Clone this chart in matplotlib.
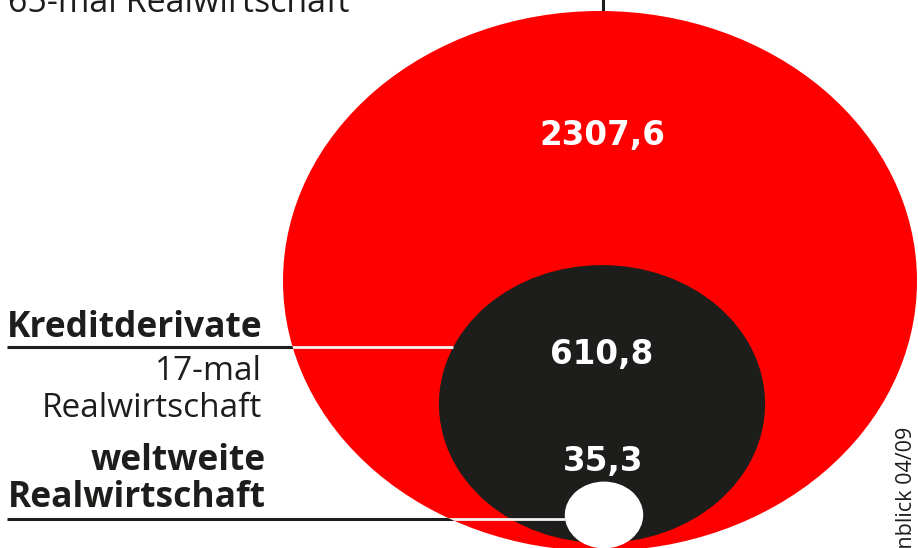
import numpy as np
import matplotlib
matplotlib.use("Agg")
import matplotlib.pyplot as plt
from matplotlib.patches import Ellipse

# ---- data ----
categories = ["Derivate insgesamt", "Kreditderivate", "weltweite Realwirtschaft"]
values = [2307.6, 610.8, 35.3]
value_labels = ["2307,6", "610,8", "35,3"]
multiples = ["65-mal Realwirtschaft", "17-mal\nRealwirtschaft"]
source = "Einblick 04/09"

colors = ["#ff0000", "#1d1d1b", "#ffffff"]
centers = [(600, 281), (602, 404), (604, 515)]
scale = 317 / np.sqrt(values[0])
aspect = 270 / 317

W, H = 918, 548
fig = plt.figure(figsize=(W / 100, H / 100), dpi=100)
ax = fig.add_axes([0, 0, 1, 1])
ax.set_xlim(0, W)
ax.set_ylim(H, 0)
ax.axis("off")

FONT = "Open Sans"
dark = "#1d1d1b"

patches = []
for v, c, col in zip(values, centers, colors):
    rx = scale * np.sqrt(v)
    ry = rx * aspect
    e = Ellipse(c, 2 * rx, 2 * ry, facecolor=col, edgecolor="none", zorder=2)
    ax.add_patch(e)
    patches.append((e, c, rx, ry))

def left_edge(idx, y):
    _, (cx, cy), rx, ry = patches[idx]
    return cx - rx * np.sqrt(max(0.0, 1 - ((y - cy) / ry) ** 2))

# leader lines
y1 = 347
x_end1 = left_edge(1, y1)
ax.plot([7, x_end1], [y1, y1], color=dark, lw=2.2, zorder=1, solid_capstyle="butt")
l1, = ax.plot([7, x_end1], [y1, y1], color="#f4f4f4", lw=2.0, zorder=3, solid_capstyle="butt")
l1.set_clip_path(patches[0][0])

y2 = 519
x_end2 = left_edge(2, y2)
ax.plot([7, x_end2], [y2, y2], color=dark, lw=2.2, zorder=1, solid_capstyle="butt")
l2, = ax.plot([7, x_end2], [y2, y2], color="#f4f4f4", lw=2.0, zorder=3, solid_capstyle="butt")
l2.set_clip_path(patches[0][0])

# top vertical leader
top_red = centers[0][1] - patches[0][3]
ax.plot([603, 603], [0, top_red], color=dark, lw=2.2, zorder=1)

# labels left
fs = 24
fsb = 25.5
ax.text(8, 12, multiples[0], fontsize=24.5, family=FONT, color=dark, ha="left", va="baseline")
ax.text(262, 337, categories[1], fontsize=fsb, family=FONT, fontweight="bold", color=dark, ha="right", va="baseline")
ax.text(262, 380, "17-mal", fontsize=fs, family=FONT, color=dark, ha="right", va="baseline")
ax.text(262, 417, "Realwirtschaft", fontsize=fs, family=FONT, color=dark, ha="right", va="baseline")
ax.text(266, 470, "weltweite", fontsize=fsb, family=FONT, fontweight="bold", color=dark, ha="right", va="baseline")
ax.text(266, 507, "Realwirtschaft", fontsize=fsb, family=FONT, fontweight="bold", color=dark, ha="right", va="baseline")

# value labels
val_pos = [(602, 145), (602, 364), (603, 471)]
for (x, y), lab in zip(val_pos, value_labels):
    ax.text(x, y, lab, fontsize=23.5, family="DejaVu Sans", fontweight="bold", color="white",
            ha="center", va="baseline", zorder=5)

# source, rotated
ax.text(912, 427, source, fontsize=15.5, family=FONT, color=dark,
        rotation=90, rotation_mode="anchor", ha="right", va="baseline")

fig.savefig("out.png", dpi=100)
